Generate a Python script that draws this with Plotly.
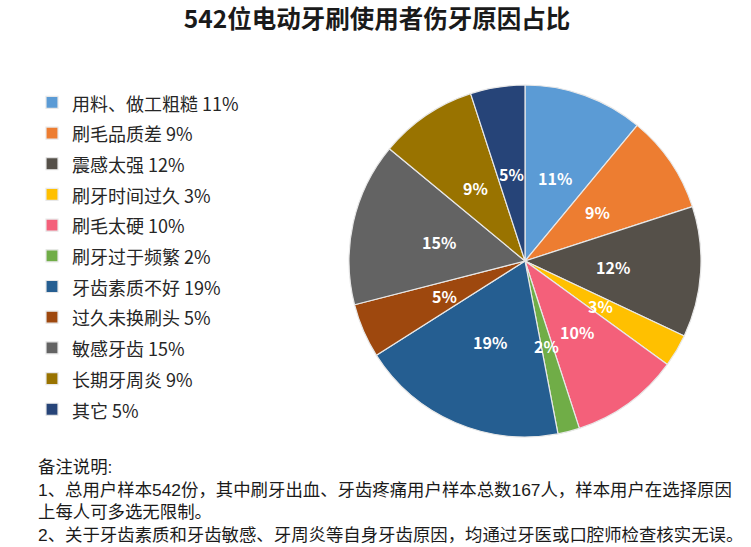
import math
import plotly.graph_objects as go

title = "542位电动牙刷使用者伤牙原因占比"
labels = ["用料、做工粗糙", "刷毛品质差", "震感太强", "刷牙时间过久", "刷毛太硬",
          "刷牙过于频繁", "牙齿素质不好", "过久未换刷头", "敏感牙齿", "长期牙周炎", "其它"]
values = [11, 9, 12, 3, 10, 2, 19, 5, 15, 9, 5]
colors = ["#5B9BD5", "#ED7D31", "#555049", "#FFC000", "#F4607A",
          "#70AD47", "#255E91", "#9E480E", "#636363", "#997300", "#264478"]
notes = [
    "备注说明:",
    "1、总用户样本542份，其中刷牙出血、牙齿疼痛用户样本总数167人，样本用户在选择原因",
    "上每人可多选无限制。",
    "2、关于牙齿素质和牙齿敏感、牙周炎等自身牙齿原因，均通过牙医或口腔师检查核实无误。",
]

W, H = 751, 547
font_cn = "Noto Sans CJK SC"
font_note = "Liberation Sans, Noto Sans CJK SC"

# pie placement (pixels)
CX, CY, R = 525, 261, 176

legend_names = [f"<span style='font-size:18px'>{l} {v}%</span>" for l, v in zip(labels, values)]

fig = go.Figure(go.Pie(
    labels=legend_names,
    values=values,
    sort=False,
    direction="clockwise",
    rotation=0,
    marker=dict(colors=colors, line=dict(color="#E8E8E8", width=1.2)),
    textinfo="none",
    domain=dict(x=[(CX - R) / W, (CX + R) / W], y=[1 - (CY + R) / H, 1 - (CY - R) / H]),
    hoverinfo="label",
))

# slice labels at half radius, horizontal, like the reference
total = sum(values)
cum = 0
for v in values:
    theta = 2 * math.pi * (cum + v / 2) / total
    cum += v
    px = CX + 0.5 * R * math.sin(theta)
    py = CY - 0.5 * R * math.cos(theta)
    fig.add_annotation(text=f"{v}%", x=px / W, y=1 - py / H, xref="paper", yref="paper",
                       xanchor="center", yanchor="middle", showarrow=False,
                       font=dict(family=font_cn, size=16, color="white", weight="bold"))

fig.update_layout(
    width=W, height=H,
    margin=dict(l=0, r=0, t=0, b=0),
    paper_bgcolor="white",
    plot_bgcolor="white",
    title=dict(text=title, x=377 / W, xanchor="center", y=1 - 19 / H, yanchor="middle",
               font=dict(family=font_cn, size=24.5, color="#1a1a1a", weight="bold")),
    legend=dict(x=32 / W, xanchor="left", y=1 - 82 / H, yanchor="top",
                font=dict(family=font_cn, size=21.3, color="#262626"),
                bgcolor="rgba(0,0,0,0)", traceorder="normal"),
    showlegend=True,
)

fig.add_annotation(text="<br>".join(notes), x=37 / W, xref="paper", xanchor="left",
                   y=1 - 456 / H, yref="paper", yanchor="top", showarrow=False,
                   align="left", borderpad=0,
                   font=dict(family=font_note, size=17.4, color="#1a1a1a"))

fig.write_html("out.html")
